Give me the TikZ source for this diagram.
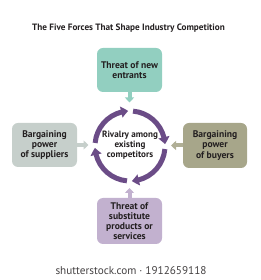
\documentclass[tikz,border=0pt]{standalone}
\usepackage{fontspec}
\setmainfont{PT Sans}
\usetikzlibrary{arrows.meta,bending}
\definecolor{teal1}{HTML}{92CFC0}
\definecolor{gray1}{HTML}{C6CFCB}
\definecolor{olive1}{HTML}{A7A68A}
\definecolor{lilac1}{HTML}{C2B1CF}
\definecolor{purp}{HTML}{6B4C87}
\definecolor{txt}{HTML}{231F20}
\begin{document}
\begin{tikzpicture}[x=1pt,y=1pt,
  forcebox/.style={rounded corners=6pt, minimum width=65pt, minimum height=44pt,
    align=center, inner sep=1pt, text=txt,
    font=\fontsize{9.6}{10.2}\selectfont\bfseries},
  feed/.style={line width=4pt, -{Triangle[width=9pt,length=5pt]}},
  ring/.style={purp, line width=5pt, -{Triangle[width=11pt,length=7pt,bend]}}]
\useasboundingbox (0,0) rectangle (260,280);
\node[font=\fontsize{9.2}{11}\selectfont\bfseries, text=txt] (title) at (128.5,252) {The Five Forces That Shape Industry Competition};
\node[forcebox, fill=teal1] (top) at (129.5,210) {Threat of new\\entrants};
\node[forcebox, fill=gray1] (left) at (44.5,135) {Bargaining\\power\\of suppliers};
\node[forcebox, fill=olive1, minimum width=64pt, minimum height=45pt] (right) at (215,134.5) {Bargaining\\power\\of buyers};
\node[forcebox, fill=lilac1, minimum height=46pt] (bottom) at (129.5,59) {Threat of\\substitute\\products or\\services};
\coordinate (c) at (130,134);
\node[font=\fontsize{9.1}{10.2}\selectfont\bfseries, text=txt, align=center] (center) at (130,135) {Rivalry among\\existing\\competitors};
\coordinate (topend) at (129.5,177.5);
\coordinate (leftend) at (88.5,135);
\coordinate (rightend) at (171,134.5);
\coordinate (bottomend) at (129.5,92);
\draw[feed, teal1] (top.south) -- (topend);
\draw[feed, gray1] (left.east) -- (leftend);
\draw[feed, olive1!90!white] (right.west) -- (rightend);
\draw[feed, lilac1] (bottom.north) -- (bottomend);
\foreach \t in {93,3,-87,-177}{
  \draw[ring] ([shift={(\t+82:35)}]c) arc[start angle=\t+82, end angle=\t, radius=35];
}
\node[font=\fontsize{11.2}{13}\selectfont, text=txt!85!white] (wm) at (131,9) {shutterstock.com · 1912659118};
\end{tikzpicture}
\end{document}
